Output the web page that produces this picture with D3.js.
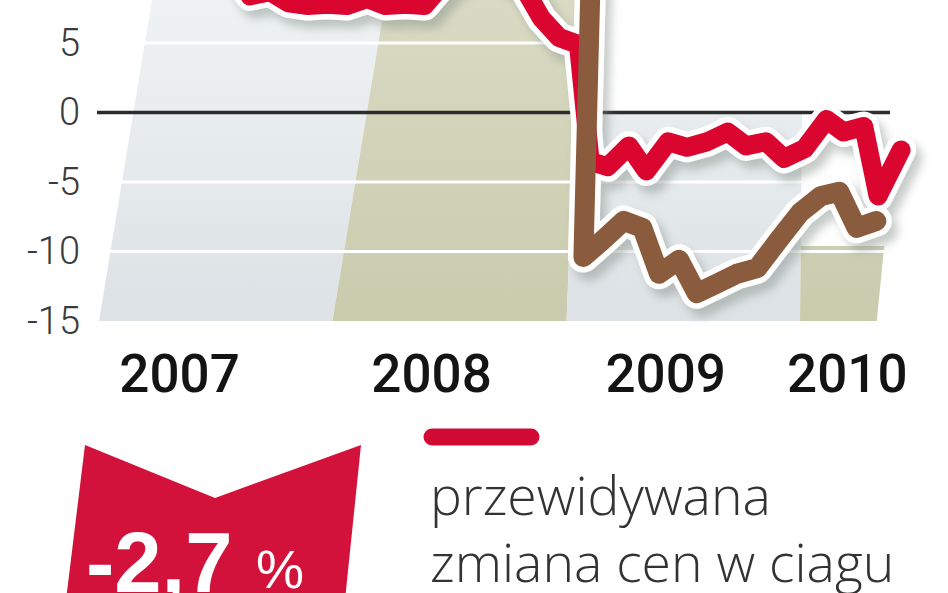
<!DOCTYPE html>
<html><head><meta charset="utf-8">
<script src="https://cdn.jsdelivr.net/npm/d3@7"></script>
<style>
html,body{margin:0;padding:0;background:#fff;}
svg{display:block;}
</style></head><body>
<svg id="chart" width="948" height="593"></svg>
<script>
// ---------------- DATA ----------------
// expected price change, monthly (red) Jan 2007 – May 2010
const redStart = "2007-01";
const redValues = [
  11.5, 12.0, 11.8, 11.2, 10.8, 10.4, 8.4, 8.7, 7.9, 7.7, 7.8, 7.7,   // 2007
  8.2, 7.7, 7.8, 7.7, 9.5, 10.5, 10.8, 10.2, 9.0, 6.8, 5.4, 4.9,     // 2008
  -3.5, -3.9, -2.4, -4.2, -2.1, -2.5, -2.1, -1.4, -2.4, -2.1, -3.3, -2.6, // 2009
  -0.5, -1.4, -1.0, -6.0, -2.7                                        // 2010
];
// second series (brown) Dec 2008 – Apr 2010
const brownStart = "2008-12";
const brownValues = [
  22.0,
  -10.4, -9.2, -7.8, -8.3, -11.6, -10.6, -13.0, -12.3, -11.6, -11.2, -9.2, -7.2,
  -6.0, -5.7, -8.3, -7.8
];
// year bands
const bandYears = ["2007", "2008", "2009", "2010"];
const bandEnds = ["2008-01", "2009-01", "2010-01", "2010-05"];
const bandTops = [12, 12, 0, -9.6];
// axis ticks
const yTicks = [5, 0, -5, -10, -15];
const gridValues = [5, -5, -10];
const yearLabels = ["2007", "2008", "2009", "2010"];
const yearLabelAt = ["2007-05-07", "2008-06-04", "2009-06-05", "2010-03-16"];
const legendLines = ["przewidywana", "zmiana cen w ciagu"];

// ---------------- SETUP ----------------
const svg = d3.select("#chart");
const parseM = d3.timeParse("%Y-%m");
const parseD = d3.timeParse("%Y-%m-%d");
const monthEnd = d => d3.timeDay.offset(d3.timeMonth.offset(d, 1), -1);

const x = d3.scaleTime()
  .domain([new Date(2007, 0, 1), new Date(2010, 0, 1)])
  .range([99, 800]);
const y = d3.scaleLinear().domain([-15, 8.1]).range([321, 0]);

const yBottom = y(-15);
const lean = 0.07, yRef = y(-8);

function series(start, vals) {
  const s = parseM(start);
  return vals.map((v, i) => ({ date: monthEnd(d3.timeMonth.offset(s, i)), v }));
}
const red = series(redStart, redValues);
const brown = series(brownStart, brownValues);

const line = d3.line()
  .x(d => x(d.date) + lean * (yRef - y(d.v)))
  .y(d => y(d.v))
  .curve(d3.curveLinear);

// ---------------- DEFS ----------------
const defs = svg.append("defs");
function grad(id, c0, c1) {
  const g = defs.append("linearGradient").attr("id", id)
    .attr("gradientUnits", "userSpaceOnUse")
    .attr("x1", 0).attr("y1", 0).attr("x2", 0).attr("y2", yBottom);
  g.append("stop").attr("offset", 0).attr("stop-color", c0);
  g.append("stop").attr("offset", 1).attr("stop-color", c1);
}
grad("gLight", "#eff2f3", "#dce2e5");
grad("gOlive", "#d9dac3", "#c9cbad");

const f = defs.append("filter").attr("id", "shadow")
  .attr("filterUnits", "userSpaceOnUse")
  .attr("x", 0).attr("y", -400).attr("width", 948).attr("height", 1000);
f.append("feGaussianBlur").attr("in", "SourceAlpha").attr("stdDeviation", 5).attr("result", "b");
f.append("feOffset").attr("in", "b").attr("dx", 6).attr("dy", 8).attr("result", "o");
f.append("feFlood").attr("flood-color", "#7f8c84").attr("flood-opacity", 0.45);
f.append("feComposite").attr("in2", "o").attr("operator", "in").attr("result", "s");
const fm = f.append("feMerge");
fm.append("feMergeNode").attr("in", "s");
fm.append("feMergeNode").attr("in", "SourceGraphic");

// ---------------- BANDS ----------------
const edgeLean = [0.165, 0.165, 0.04, 0.01, 0.1];
const bands = bandYears.map((yr, i) => ({
  x0: x(parseM(yr + "-01")), x1: x(parseM(bandEnds[i])),
  top: bandTops[i], l0: edgeLean[i], l1: edgeLean[i + 1],
  fill: i % 2 === 0 ? "url(#gLight)" : "url(#gOlive)"
}));
svg.append("g").selectAll("path").data(bands).join("path")
  .attr("d", b => {
    const yt = y(b.top), h = yBottom - yt;
    return `M${b.x0},${yBottom}L${b.x0 + b.l0 * h},${yt}L${b.x1 + b.l1 * h},${yt}L${b.x1},${yBottom}Z`;
  })
  .attr("fill", b => b.fill);

// grid lines
svg.append("g").selectAll("line").data(gridValues).join("line")
  .attr("x1", 97).attr("x2", 890)
  .attr("y1", d => y(d)).attr("y2", d => y(d))
  .attr("stroke", "#ffffff").attr("stroke-width", 3);

// zero line
svg.append("line").attr("x1", 97).attr("x2", 890)
  .attr("y1", y(0)).attr("y2", y(0))
  .attr("stroke", "#2c2c2c").attr("stroke-width", 3.5);

// y axis labels
const ax = svg.append("g").attr("transform", "translate(82,0)")
  .call(d3.axisLeft(y).tickValues(yTicks).tickSize(0).tickPadding(2).tickFormat(d => String(d)));
ax.select(".domain").remove();
ax.selectAll("text")
  .attr("font-family", "Roboto, 'Open Sans', sans-serif")
  .attr("font-weight", 300)
  .attr("font-size", 38)
  .attr("fill", "#3a3a3a");

// ---------------- LINES ----------------
const outl = svg.append("g").attr("filter", "url(#shadow)");
[[red, 19], [brown, 20]].forEach(([d, w]) => {
  outl.append("path").attr("d", line(d)).attr("fill", "none")
    .attr("stroke", "#ffffff").attr("stroke-width", w + 11)
    .attr("stroke-linejoin", "round").attr("stroke-linecap", "round");
});
svg.append("path").attr("d", line(red)).attr("fill", "none")
  .attr("stroke", "#da0630").attr("stroke-width", 19)
  .attr("stroke-linejoin", "round").attr("stroke-linecap", "round");
svg.append("path").attr("d", line(brown)).attr("fill", "none")
  .attr("stroke", "#8b5b3d").attr("stroke-width", 20)
  .attr("stroke-linejoin", "round").attr("stroke-linecap", "round");

// ---------------- YEAR LABELS ----------------
svg.append("g").selectAll("text").data(yearLabels).join("text")
  .attr("x", (d, i) => x(parseD(yearLabelAt[i])))
  .attr("y", 392)
  .attr("text-anchor", "middle")
  .attr("font-family", "Roboto, 'Liberation Sans', sans-serif")
  .attr("font-weight", 500)
  .attr("font-size", 53)
  .attr("fill", "#141414")
  .text(d => d);

// ---------------- LEGEND ----------------
svg.append("line").attr("x1", 432).attr("x2", 531).attr("y1", 437).attr("y2", 437)
  .attr("stroke", "#d10a35").attr("stroke-width", 17).attr("stroke-linecap", "round");
svg.append("g").selectAll("text").data(legendLines).join("text")
  .attr("x", 430).attr("y", (d, i) => 515 + i * 67)
  .attr("font-family", "'Open Sans', sans-serif")
  .attr("font-weight", 300)
  .attr("font-size", 53.5)
  .attr("fill", "#333333")
  .text(d => d);

// ---------------- CALLOUT RIBBON ----------------
svg.append("path")
  .attr("d", "M85,445L215,498L361,445L345,600L66,600Z")
  .attr("fill", "#d3123b");
const last = redValues[redValues.length - 1];
svg.append("text").attr("x", 86).attr("y", 592)
  .attr("font-family", "'Liberation Sans', Arial, sans-serif")
  .attr("font-weight", 700).attr("font-size", 85).attr("fill", "#ffffff")
  .text(String(last).replace(".", ","));
svg.append("text").attr("x", 256).attr("y", 588)
  .attr("font-family", "'Liberation Sans', Arial, sans-serif")
  .attr("font-weight", 400).attr("font-size", 54).attr("fill", "#ffffff")
  .text("%");
</script>
</body></html>
